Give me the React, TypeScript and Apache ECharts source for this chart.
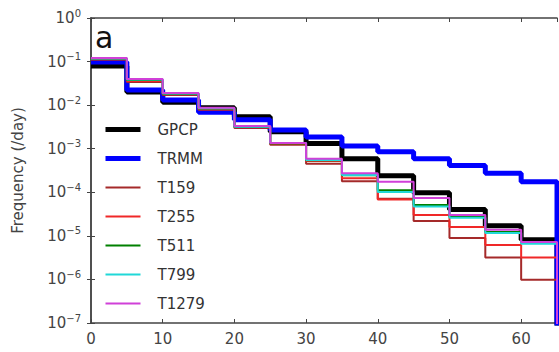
import React, { useEffect, useRef } from 'react';
import * as echarts from 'echarts';

const binEdges = [0, 5, 10, 15, 20, 25, 30, 35, 40, 45, 50, 55, 60, 65];
const xTicks = [0, 10, 20, 30, 40, 50, 60];
const yExponents = [0, -1, -2, -3, -4, -5, -6, -7];

const seriesNames = ['GPCP', 'TRMM', 'T159', 'T255', 'T511', 'T799', 'T1279'];
const seriesColors = ['#000000', '#0000ff', '#a52a2a', '#f02828', '#008000', '#20d8d8', '#d040d8'];
const seriesWidths = [5, 5, 2, 2, 2, 2, 2];

const gpcp = [0.079, 0.020, 0.0117, 0.0087, 0.0054, 0.00245, 0.00132, 5.9e-4, 2.4e-4, 9.8e-5, 4.0e-5, 1.7e-5, 8.1e-6];
const trmm = [0.098, 0.0224, 0.0132, 0.0069, 0.0046, 0.0027, 0.00186, 0.00115, 8.5e-4, 5.9e-4, 4.1e-4, 2.75e-4, 1.74e-4];
const t159 = [0.11, 0.034, 0.017, 0.0078, 0.0030, 0.00123, 4.5e-4, 1.8e-4, 7.1e-5, 2.2e-5, 8.9e-6, 3.2e-6, 9.8e-7];
const t255 = [0.115, 0.036, 0.018, 0.0081, 0.0032, 0.00129, 5.2e-4, 2.1e-4, 6.8e-5, 3.0e-5, 1.6e-5, 6.2e-6, 3.2e-6];
const t511 = [0.117, 0.038, 0.0183, 0.0084, 0.0032, 0.00132, 5.4e-4, 2.45e-4, 1.12e-4, 5.1e-5, 2.75e-5, 1.23e-5, 6.9e-6];
const t799 = [0.118, 0.039, 0.0185, 0.0085, 0.0032, 0.00135, 5.5e-4, 2.5e-4, 1.02e-4, 4.7e-5, 2.6e-5, 1.17e-5, 6.6e-6];
const t1279 = [0.12, 0.040, 0.019, 0.0087, 0.0033, 0.00135, 5.9e-4, 2.75e-4, 1.74e-4, 7.4e-5, 3.0e-5, 1.38e-5, 7.2e-6];

const allValues = [gpcp, trmm, t159, t255, t511, t799, t1279];

const FONT = 'DejaVu Sans';

function stepData(vals: number[]): number[][] {
  const pts: number[][] = [];
  vals.forEach((v, i) => {
    pts.push([binEdges[i], v]);
    pts.push([binEdges[i + 1], v]);
  });
  pts.push([binEdges[binEdges.length - 1], 1e-9]);
  return pts;
}

export default function App() {
  const ref = useRef<HTMLDivElement>(null);
  useEffect(() => {
    if (!ref.current) return;
    const chart = echarts.init(ref.current, undefined, { renderer: 'svg' });
    const axisColor = '#444';
    const option: any = {
      animation: false,
      backgroundColor: '#ffffff',
      grid: { left: 91, right: 2, top: 18, bottom: 29 },
      xAxis: [
        {
          type: 'value',
          min: binEdges[0],
          max: binEdges[binEdges.length - 1],
          interval: xTicks[1] - xTicks[0],
          axisLine: { show: true, lineStyle: { color: axisColor, width: 1.5 } },
          axisTick: { show: true, inside: true, length: 4, lineStyle: { color: axisColor } },
          axisLabel: {
            show: true,
            showMaxLabel: false,
            color: '#444',
            fontSize: 15,
            fontFamily: FONT,
            margin: 8,
          },
          splitLine: { show: false },
        },
        {
          type: 'value',
          position: 'top',
          min: binEdges[0],
          max: binEdges[binEdges.length - 1],
          interval: xTicks[1] - xTicks[0],
          axisLine: { show: true, lineStyle: { color: axisColor, width: 1.5 } },
          axisTick: { show: true, inside: true, length: 4, lineStyle: { color: axisColor } },
          axisLabel: { show: false },
          splitLine: { show: false },
        },
      ],
      yAxis: [
        {
          type: 'log',
          logBase: 10,
          min: Math.pow(10, yExponents[yExponents.length - 1]),
          max: Math.pow(10, yExponents[0]),
          interval: 1,
          name: 'Frequency (/day)',
          nameLocation: 'middle',
          nameGap: 66,
          nameTextStyle: { color: '#444', fontSize: 15, fontFamily: FONT },
          axisLine: { show: true, lineStyle: { color: axisColor, width: 1.5 } },
          axisTick: { show: true, inside: true, length: 4, lineStyle: { color: axisColor } },
          axisLabel: {
            color: '#444',
            fontFamily: FONT,
            margin: 10,
            formatter: (v: number) => {
              const e = Math.round(Math.log10(v));
              const s = e < 0 ? '\u2212' + String(-e) : String(e);
              return '{b|10}{s|' + s + '}';
            },
            rich: {
              b: { fontSize: 15, fontFamily: FONT, color: '#444', lineHeight: 20 },
              s: { fontSize: 10, fontFamily: FONT, color: '#444', verticalAlign: 'top', lineHeight: 12 },
            },
          },
          splitLine: { show: false },
        },
        {
          type: 'log',
          logBase: 10,
          position: 'right',
          min: Math.pow(10, yExponents[yExponents.length - 1]),
          max: Math.pow(10, yExponents[0]),
          interval: 1,
          axisLine: { show: true, lineStyle: { color: axisColor, width: 1.5 } },
          axisTick: { show: true, inside: true, length: 4, lineStyle: { color: axisColor } },
          axisLabel: { show: false },
          splitLine: { show: false },
        },
      ],
      legend: {
        orient: 'vertical',
        left: 98,
        top: 117,
        itemWidth: 35,
        itemHeight: 14,
        itemGap: 14,
        data: seriesNames.map((name, i) => ({
          name,
          lineStyle: { color: seriesColors[i], width: seriesWidths[i] },
        })),
        itemStyle: { color: 'transparent', borderWidth: 0, opacity: 0 },
        textStyle: { fontSize: 15, fontFamily: FONT, color: '#333', padding: [0, 0, 0, 12] },
      },
      graphic: [
        {
          type: 'text',
          left: 95,
          top: 22,
          style: { text: 'a', fontSize: 30, fontFamily: FONT, fill: '#111' },
        },
      ],
      series: seriesNames.map((name, i) => ({
        name,
        type: 'line',
        data: stepData(allValues[i]),
        symbol: 'none',
        showSymbol: false,
        clip: true,
        xAxisIndex: 0,
        yAxisIndex: 0,
        lineStyle: { color: seriesColors[i], width: seriesWidths[i] },
        itemStyle: { color: seriesColors[i] },
      })),
    };
    chart.setOption(option);
    return () => chart.dispose();
  }, []);
  return (
    <div
      ref={ref}
      style={{ position: 'fixed', left: 0, top: 0, width: 559, height: 352, background: '#fff' }}
    />
  );
}
